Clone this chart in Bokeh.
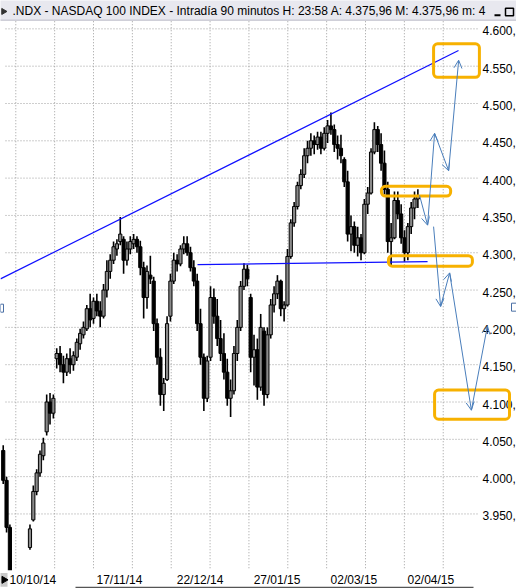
import numpy as np
import pandas as pd
from bokeh.plotting import figure
from bokeh.models import Range1d, LogScale, LinearScale, Arrow, OpenHead, BoxAnnotation, ColumnDataSource
from bokeh.core.properties import value
from bokeh.embed import file_html
from bokeh.resources import INLINE

W, H = 516, 588
FONT = value("Liberation Sans")

# ---- NASDAQ-100 daily sessions, 9 Oct 2014 .. 9 Apr 2015 (exchange holidays removed)
holidays = pd.to_datetime(["2014-11-27", "2014-12-25", "2015-01-01",
                           "2015-01-19", "2015-02-16", "2015-04-03"])
sessions = pd.bdate_range("2014-10-09", "2015-04-09")
sessions = sessions[~sessions.isin(holidays)]

opens = [4035, 3995, 3932, 3866, 3805, 3790, 3838, 3850, 3905, 3942,
         3980, 4005, 4028, 4060, 4100, 4085, 4158, 4165, 4150, 4140,
         4158, 4150, 4160, 4178, 4190, 4198, 4225, 4212, 4235, 4222,
         4215, 4250, 4275, 4290, 4305, 4315, 4318, 4290, 4305, 4312,
         4318, 4308, 4280, 4240, 4270, 4262, 4205, 4160, 4110, 4130,
         4215, 4262, 4290, 4285, 4305, 4312, 4300, 4280, 4262, 4205,
         4160, 4105, 4160, 4240, 4215, 4185, 4165, 4140, 4105, 4115,
         4165, 4200, 4255, 4278, 4240, 4160, 4170, 4120, 4195, 4110,
         4190, 4230, 4245, 4262, 4225, 4230, 4295, 4340, 4362, 4390,
         4405, 4430, 4440, 4450, 4445, 4455, 4440, 4460, 4470, 4465,
         4445, 4440, 4425, 4395, 4325, 4335, 4310, 4320, 4300, 4365,
         4380, 4435, 4465, 4445, 4420, 4385, 4315, 4320, 4370, 4352,
         4320, 4300, 4335, 4360, 4372]
highs = [4042, 4000, 3936, 3870, 3845, 3850, 3864, 3866, 3936, 3988,
         4010, 4035, 4052, 4110, 4112, 4110, 4172, 4175, 4162, 4165,
         4172, 4168, 4185, 4198, 4208, 4230, 4245, 4240, 4245, 4235,
         4258, 4290, 4298, 4315, 4318, 4348, 4322, 4315, 4322, 4325,
         4322, 4316, 4288, 4283, 4296, 4268, 4212, 4172, 4132, 4215,
         4272, 4300, 4298, 4310, 4322, 4322, 4308, 4290, 4272, 4225,
         4165, 4162, 4255, 4252, 4238, 4210, 4192, 4158, 4130, 4175,
         4210, 4262, 4286, 4284, 4245, 4190, 4185, 4218, 4200, 4200,
         4238, 4255, 4270, 4264, 4235, 4305, 4345, 4368, 4395, 4412,
         4440, 4450, 4460, 4457, 4462, 4462, 4468, 4478, 4488, 4472,
         4457, 4458, 4428, 4410, 4350, 4342, 4335, 4325, 4372, 4388,
         4440, 4475, 4470, 4460, 4437, 4395, 4340, 4382, 4382, 4365,
         4330, 4340, 4368, 4382, 4385]
lows = [3990, 3925, 3860, 3795, 3735, 3765, 3822, 3835, 3902, 3940,
        3975, 4000, 4022, 4055, 4070, 4078, 4145, 4140, 4125, 4135,
        4138, 4142, 4155, 4170, 4185, 4195, 4200, 4205, 4215, 4200,
        4212, 4240, 4265, 4285, 4296, 4310, 4272, 4283, 4298, 4305,
        4300, 4270, 4212, 4225, 4258, 4195, 4150, 4095, 4088, 4128,
        4208, 4258, 4275, 4282, 4298, 4296, 4275, 4255, 4195, 4150,
        4088, 4100, 4155, 4205, 4175, 4155, 4130, 4095, 4080, 4110,
        4155, 4195, 4250, 4255, 4140, 4122, 4103, 4115, 4095, 4105,
        4185, 4220, 4238, 4215, 4208, 4228, 4292, 4335, 4358, 4385,
        4400, 4420, 4430, 4432, 4438, 4432, 4437, 4447, 4458, 4435,
        4425, 4420, 4388, 4315, 4302, 4300, 4295, 4290, 4298, 4352,
        4378, 4432, 4435, 4410, 4378, 4300, 4283, 4318, 4345, 4312,
        4288, 4290, 4325, 4345, 4360]
closes = [3995, 3932, 3868, 3812, 3800, 3832, 3856, 3860, 3930, 3980,
          4005, 4030, 4045, 4100, 4085, 4105, 4165, 4150, 4140, 4158,
          4150, 4162, 4180, 4192, 4200, 4225, 4210, 4235, 4222, 4215,
          4250, 4275, 4290, 4308, 4312, 4325, 4290, 4305, 4315, 4318,
          4308, 4280, 4240, 4275, 4265, 4205, 4160, 4110, 4125, 4205,
          4262, 4290, 4285, 4305, 4312, 4300, 4280, 4262, 4205, 4160,
          4105, 4155, 4240, 4215, 4185, 4165, 4140, 4105, 4115, 4165,
          4200, 4255, 4278, 4265, 4160, 4170, 4120, 4200, 4110, 4190,
          4230, 4245, 4262, 4225, 4230, 4295, 4340, 4362, 4390, 4405,
          4430, 4440, 4450, 4445, 4455, 4440, 4460, 4470, 4465, 4445,
          4440, 4430, 4395, 4325, 4335, 4310, 4320, 4300, 4365, 4380,
          4435, 4465, 4445, 4420, 4385, 4315, 4320, 4370, 4352, 4320,
          4300, 4335, 4360, 4372, 4375.96]

# price scale ticks (right-hand labels) and dated session labels
price_ticks = list(range(3950, 4601, 50))
date_label_days = ["2014-10-10", "2014-11-17", "2014-12-22",
                   "2015-01-27", "2015-03-02", "2015-04-02"]

# hand-drawn analysis: trendlines, zones and scenario arrows (session number, price)
resistance_line = ([-0.81, 136.15], [4265, 4571])
support_line = ([58.1, 126.9], [4284, 4288])
zones = [  # left, right, bottom, top
    (113.1, 133.8, 4376, 4389),
    (115.2, 140.3, 4282, 4296),
    (129.0, 151.4, 4077, 4116),
    (128.7, 142.4, 4535, 4580),
]
bull_path = ([124.5, 126.9, 129.0, 133.2, 136.2], [4377, 4337, 4460, 4410, 4558])
bear_path = ([128.7, 130.8, 133.5, 140.0, 144.8], [4335, 4228, 4273, 4089, 4202])

# ---- screen geometry of the chart window
X0_PX, BAR_PX = 2.716, 3.344          # pixel of first session, pixels per session
P_TOP, P_BOTTOM = 4638.0, 3850.1      # prices at the top and bottom window edges


def bar_at(px):
    return (px - X0_PX) / BAR_PX


def price_at(py):
    return P_TOP * (P_BOTTOM / P_TOP) ** (py / H)


p = figure(width=W, height=H, output_backend="svg", toolbar_location=None,
           x_axis_location=None, y_axis_location=None, title=None,
           x_range=Range1d(bar_at(0), bar_at(W)),
           y_range=Range1d(P_BOTTOM, P_TOP),
           x_scale=LinearScale(), y_scale=LogScale(),
           min_border=0, outline_line_color=None,
           background_fill_color="white", border_fill_color="white")
p.grid.visible = False

n = len(sessions)
xs = np.arange(n)
o, hi, lo, c = map(np.array, (opens, highs, lows, closes))

# dotted grid
grid_col = "#9c9c9c"
p.segment(x0=[bar_at(5)] * len(price_ticks), x1=[bar_at(478)] * len(price_ticks),
          y0=price_ticks, y1=price_ticks, line_color=grid_col, line_dash="1 2", line_width=1)
anchor = int(np.where(sessions == pd.Timestamp("2014-11-17"))[0][0])
vgrid = [anchor + 11.62 * k for k in range(-2, 10)]
p.segment(x0=vgrid, x1=vgrid, y0=[price_at(19)] * len(vgrid), y1=[price_at(567)] * len(vgrid),
          line_color=grid_col, line_dash="1 2", line_width=1)

# candlesticks
src = ColumnDataSource(dict(x=xs, high=hi, low=lo,
                            top=np.maximum(o, c), bottom=np.minimum(o, c),
                            fill=np.where(c >= o, "#8a8a8a", "#000000")))
p.segment(x0="x", x1="x", y0="high", y1="low", source=src, line_color="black", line_width=1.6)
p.vbar(x="x", width=0.95, top="top", bottom="bottom", source=src,
       fill_color="fill", line_color="black", line_width=1)

# trendlines
p.line(resistance_line[0], resistance_line[1], line_color="#1010ff", line_width=1.2)
p.line(support_line[0], support_line[1], line_color="#1010ff", line_width=1.2)

# price labels on the right
p.text(x=[bar_at(482)] * len(price_ticks), y=price_ticks,
       text=[f"{v:,}".replace(",", ".") + "," for v in price_ticks],
       text_font=FONT, text_font_size="12px", text_color="black",
       text_align="left", text_baseline="middle", y_offset=2)

# small scroll handles at the side edges
p.quad(left=[bar_at(0)], right=[bar_at(3)], top=[price_at(290)], bottom=[price_at(298)],
       fill_color="white", line_color="#4a6fa5", line_width=1)
p.quad(left=[bar_at(511)], right=[bar_at(518)], top=[price_at(289)], bottom=[price_at(297)],
       fill_color="white", line_color="#4a6fa5", line_width=1)

# date strip along the bottom
p.quad(left=[bar_at(-2)], right=[bar_at(W + 2)], top=[price_at(568)], bottom=[price_at(H + 4)],
       fill_color="white", line_color=None)
label_pos = [int(np.where(sessions == pd.Timestamp(d))[0][0]) for d in date_label_days]
p.text(x=label_pos, y=[price_at(579)] * len(label_pos),
       text=[pd.Timestamp(d).strftime("%d/%m/%y") for d in date_label_days],
       text_font=FONT, text_font_size="12px", text_color="black",
       text_align="left", text_baseline="middle", x_offset=3)
p.segment(x0=[bar_at(75)], x1=[bar_at(473)], y0=[price_at(587)], y1=[price_at(587)],
          line_color="#555555", line_width=1.5)
p.quad(left=[bar_at(-1)], right=[bar_at(7)], top=[price_at(571)], bottom=[price_at(586)],
       fill_color="#c8c8c8", line_color=None)
p.scatter(x=[bar_at(3.5)], y=[price_at(578.5)], marker="triangle", angle=-np.pi / 2,
          size=7, fill_color="black", line_color="black")

# window caption bar
p.quad(left=[bar_at(-2)], right=[bar_at(W + 2)], top=[price_at(-4)], bottom=[price_at(18)],
       fill_color="#e8e8ef", line_color="#b9b9c6", line_width=1)
p.scatter(x=[bar_at(3)], y=[price_at(10)], marker="triangle", angle=-np.pi / 2,
          size=6, fill_color="#333333", line_color="#333333")
p.text(x=[bar_at(12)], y=[price_at(10)],
       text=[".NDX - NASDAQ 100 INDEX - Intradía 90 minutos H: 23:58 A: 4.375,96 M: 4.375,96 m: 4"],
       text_font=FONT, text_font_size="12px", text_color="black",
       text_align="left", text_baseline="middle")
p.quad(left=[bar_at(491)], right=[bar_at(516)], top=[price_at(3)], bottom=[price_at(17)],
       fill_color="#e8e8ef", line_color=None)
p.quad(left=[bar_at(494)], right=[bar_at(500)], top=[price_at(12.5)], bottom=[price_at(14.5)],
       fill_color="black", line_color=None)
p.quad(left=[bar_at(505)], right=[bar_at(513)], top=[price_at(7)], bottom=[price_at(14)],
       fill_color=None, line_color="black", line_width=1.5)

# highlighted zones
for left, right, bottom, top in zones:
    p.add_layout(BoxAnnotation(left=left, right=right, bottom=bottom, top=top,
                               fill_color=None, fill_alpha=0,
                               line_color="#f7b100", line_alpha=1.0, line_width=3,
                               border_radius=4))

# scenario arrows
for bx, py in (bull_path, bear_path):
    for k in range(len(bx) - 1):
        p.add_layout(Arrow(x_start=bx[k], y_start=py[k], x_end=bx[k + 1], y_end=py[k + 1],
                           line_color="#4a7ebb", line_width=1,
                           end=OpenHead(size=8, line_color="#4a7ebb", line_width=1)))

open("out.html", "w").write(file_html(p, INLINE))
